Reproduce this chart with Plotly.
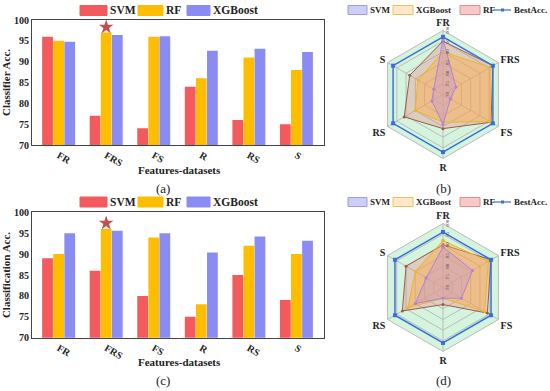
import plotly.graph_objects as go

# ---------------- data ----------------
categories = ["FR", "FRS", "FS", "R", "RS", "S"]

# (a) classifier accuracy
svm_a = [96, 77, 74, 84, 76, 75]
rf_a = [95, 97, 96, 86, 91, 88]
xgb_a = [94.8, 96.4, 96.1, 92.6, 93.1, 92.3]

# (c) classification accuracy
svm_c = [89, 86, 80, 75, 85, 79]
rf_c = [90, 96, 94, 78, 92, 90]
xgb_c = [95, 95.6, 95, 90.4, 94.2, 93.2]

# (b) radar values
radar_b_svm = [96, 77, 74, 84, 76, 75]
radar_b_xgb = [90, 95.5, 95.5, 83, 85, 83.5]
radar_b_rf = [95, 97, 96, 86, 91, 88]
radar_b_best = [97, 97, 97, 97, 97, 97]

# (d) radar values
radar_d_svm = [89, 86, 80, 75, 85, 79]
radar_d_xgb = [92, 94.5, 92.5, 75, 89, 85]
radar_d_rf = [90, 96, 94, 78, 92, 90]
radar_d_best = [96, 96, 96, 96, 96, 96]

# best marker (star) positions
star_a = ("FRS", 98.3)
star_c = ("FRS", 97.4)

radial_ticks = [70, 75, 80, 85, 90, 95, 100]
bar_ticks = [70, 75, 80, 85, 90, 95, 100]

# ---------------- styles ----------------
FONT = "Liberation Serif, Times New Roman, serif"
C_SVM = "#F25A5E"
C_RF = "#FDBD00"
C_XGB = "#8B8BF4"
W, H = 550, 391

fig = go.Figure()


def px_x(x):
    return x / W


def px_y(y):
    return 1 - y / H


def add_bars(svm, rf, xgb, xa, ya, star):
    for name, vals, col in [("SVM", svm, C_SVM), ("RF", rf, C_RF), ("XGBoost", xgb, C_XGB)]:
        fig.add_trace(go.Bar(x=categories, y=vals, name=name, marker_color=col,
                             marker_line_width=0, xaxis=xa, yaxis=ya, showlegend=False))
    fig.add_trace(go.Scatter(x=[star[0]], y=[star[1]], mode="markers",
                             marker=dict(symbol="star", size=11, color="#C0504D"),
                             xaxis=xa, yaxis=ya, showlegend=False))


add_bars(svm_a, rf_a, xgb_a, "x", "y", star_a)
add_bars(svm_c, rf_c, xgb_c, "x2", "y2", star_c)


def add_radar(svm, xgb, rf, best, sub):
    theta = categories + [categories[0]]
    close = lambda v: list(v) + [v[0]]
    fig.add_trace(go.Scatterpolar(r=close(rf), theta=theta, name="RF", subplot=sub, showlegend=False,
                                  mode="lines+markers", fill="toself",
                                  fillcolor="rgba(240,120,120,0.30)",
                                  line=dict(color="#9E5A4F", width=1),
                                  marker=dict(size=3, color="#9E5A4F")))
    fig.add_trace(go.Scatterpolar(r=close(xgb), theta=theta, name="XGBoost", subplot=sub, showlegend=False,
                                  mode="lines+markers", fill="toself",
                                  fillcolor="rgba(255,170,70,0.45)",
                                  line=dict(color="#E8B820", width=1),
                                  marker=dict(size=3, color="#E8B820")))
    fig.add_trace(go.Scatterpolar(r=close(svm), theta=theta, name="SVM", subplot=sub, showlegend=False,
                                  mode="lines+markers", fill="toself",
                                  fillcolor="rgba(190,150,220,0.35)",
                                  line=dict(color="#B57EDC", width=1),
                                  marker=dict(size=3, color="#B57EDC")))
    fig.add_trace(go.Scatterpolar(r=close(best), theta=theta, name="BestAcc.", subplot=sub, showlegend=False,
                                  mode="lines+markers",
                                  line=dict(color="#3A6FD8", width=1.5),
                                  marker=dict(size=4, color="#3A6FD8", symbol="square")))


add_radar(radar_b_svm, radar_b_xgb, radar_b_rf, radar_b_best, "polar")
add_radar(radar_d_svm, radar_d_xgb, radar_d_rf, radar_d_best, "polar2")

xdom = [px_x(32), px_x(324)]


def bar_axes(title):
    xa = dict(domain=xdom, range=[-0.56, 5.58], showline=True, linecolor="#444", linewidth=1,
              mirror=True, ticks="", tickangle=30,
              tickfont=dict(family=FONT, size=10, color="#222", weight="bold"))
    ya = dict(range=[70, 100], tickvals=bar_ticks, showline=True, linecolor="#444", linewidth=1,
              mirror=True, showgrid=False, ticks="", zeroline=False,
              tickfont=dict(family=FONT, size=10, color="#222", weight="bold"),
              title=dict(text=title, font=dict(family=FONT, size=11, color="#222", weight="bold"),
                         standoff=3))
    return xa, ya


xa1, ya1 = bar_axes("Classifier Acc.")
xa2, ya2 = bar_axes("Classification Acc.")
ya1["domain"] = [px_y(145), px_y(20)]
ya2["domain"] = [px_y(337.7), px_y(212.3)]
xa1["anchor"] = "y"
ya1["anchor"] = "x"
xa2["anchor"] = "y2"
ya2["anchor"] = "x2"


def polar_layout(cy):
    r = 64
    return dict(
        domain=dict(x=[px_x(443 - r), px_x(443 + r)], y=[px_y(cy + r), px_y(cy - r)]),
        gridshape="linear",
        bgcolor="rgba(212,244,222,1)",
        radialaxis=dict(range=[70, 100], tickvals=radial_ticks, angle=90,
                        showline=False, ticks="", gridcolor="#BBBBBB", gridwidth=0.6,
                        tickfont=dict(family=FONT, size=5, color="#444")),
        angularaxis=dict(rotation=90, direction="clockwise", categoryorder="array",
                         categoryarray=categories, linecolor="#BBBBBB", gridcolor="#BBBBBB",
                         gridwidth=0.6, ticks="",
                         tickfont=dict(family=FONT, size=10, color="#222", weight="bold")),
    )


# ---------------- custom legends (shapes + text) ----------------
shapes = []
annotations = []


def legend_rect(x0, x1, yc, h, fill, line):
    shapes.append(dict(type="rect", xref="paper", yref="paper",
                       x0=px_x(x0), x1=px_x(x1), y0=px_y(yc + h / 2), y1=px_y(yc - h / 2),
                       fillcolor=fill, line=dict(color=line, width=1)))


def text_at(x, yc, text, size, anchor="left", bold=True):
    annotations.append(dict(text=text, x=px_x(x), y=px_y(yc), xref="paper", yref="paper",
                            xanchor=anchor, yanchor="middle", showarrow=False,
                            font=dict(family=FONT, size=size, color="#222",
                                      weight="bold" if bold else "normal")))


for yc in (10.5, 202):
    legend_rect(80, 107, yc, 10, C_SVM, C_SVM)
    text_at(108, yc, "SVM", 11.5)
    legend_rect(138, 163, yc, 10, C_RF, C_RF)
    text_at(164, yc, "RF", 11.5)
    legend_rect(187, 210, yc, 10, C_XGB, C_XGB)
    text_at(211, yc, "XGBoost", 11.5)

for yc in (10, 202):
    legend_rect(348, 367, yc, 9, "rgba(205,205,245,1)", "#9C9CE6")
    text_at(368, yc, "SVM", 9)
    legend_rect(393, 413, yc, 9, "rgba(253,233,200,1)", "#E8C060")
    text_at(414, yc, "XGBoost", 9)
    legend_rect(460, 480, yc, 9, "rgba(248,200,200,1)", "#E09090")
    text_at(481, yc, "RF", 9)
    shapes.append(dict(type="line", xref="paper", yref="paper", x0=px_x(494), x1=px_x(511),
                       y0=px_y(yc), y1=px_y(yc), line=dict(color="#3A6FD8", width=1.2)))
    shapes.append(dict(type="rect", xref="paper", yref="paper", x0=px_x(501), x1=px_x(504),
                       y0=px_y(yc + 1.5), y1=px_y(yc - 1.5), fillcolor="#3A6FD8",
                       line=dict(color="#3A6FD8", width=0)))
    text_at(512, yc, "BestAcc.", 9)

# x-axis titles and panel captions
text_at(179, 170, "Features-datasets", 11, anchor="center")
text_at(179, 362, "Features-datasets", 11, anchor="center")
for lab, x, y in [("(a)", 163, 188), ("(c)", 163, 380), ("(b)", 443, 188), ("(d)", 443, 380)]:
    text_at(x, y, lab, 13, anchor="center", bold=False)

fig.update_layout(
    width=W, height=H,
    margin=dict(l=0, r=0, t=0, b=0, autoexpand=False),
    paper_bgcolor="white", plot_bgcolor="white",
    barmode="group", bargap=0.3, bargroupgap=0.03,
    font=dict(family=FONT),
    showlegend=False,
    xaxis=xa1, yaxis=ya1, xaxis2=xa2, yaxis2=ya2,
    polar=polar_layout(94.5),
    polar2=polar_layout(287.5),
    shapes=shapes,
    annotations=annotations,
)

# remove the default page margin so the figure fills the window exactly; hide the mode bar
fig.write_html("out.html", config={"displayModeBar": False},
               post_script="document.body.style.margin='0';")
